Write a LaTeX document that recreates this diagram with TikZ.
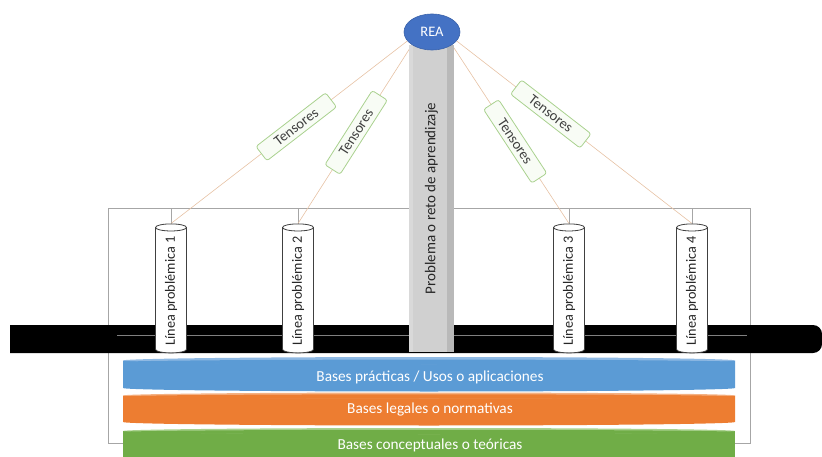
\documentclass[tikz,border=0pt]{standalone}
\usepackage{fontspec}
\setmainfont{Carlito}
\usetikzlibrary{shapes.geometric}
\definecolor{reablue}{HTML}{4472C4}
\definecolor{reaborder}{HTML}{3A62AA}
\definecolor{tanline}{HTML}{E6C2A4}
\definecolor{tgreen}{HTML}{A9D18E}
\definecolor{tfill}{HTML}{F8FCF5}
\definecolor{framegray}{HTML}{A6A6A6}
\definecolor{layblue}{HTML}{5B9BD5}
\definecolor{layblueTop}{HTML}{8FB9E3}
\definecolor{layorange}{HTML}{ED7D31}
\definecolor{layorangeTop}{HTML}{F4B183}
\definecolor{laygreen}{HTML}{70AD47}
\definecolor{laygreenTop}{HTML}{A9D18E}
\definecolor{txtdark}{HTML}{262626}
\definecolor{colLight}{HTML}{D9D9D9}
\definecolor{colMid}{HTML}{D0D0D0}
\definecolor{colDark}{HTML}{B9B9B9}
\pgfdeclarelayer{bg}
\pgfsetlayers{bg,main}
\begin{document}
\begin{tikzpicture}[x=1pt,y=-1pt,
  rea/.style={ellipse, fill=reablue, draw=reaborder, line width=0.6pt,
    minimum width=56pt, minimum height=36pt, inner sep=0pt, text=white,
    font=\fontsize{14.5}{16}\selectfont},
  colbox/.style={rectangle, minimum width=45pt, minimum height=307pt,
    inner sep=0pt, fill=colMid,
    path picture={
      \fill[colLight] (path picture bounding box.north west) rectangle ([xshift=4pt]path picture bounding box.south west);
      \fill[colDark] ([xshift=-7pt]path picture bounding box.north east) rectangle (path picture bounding box.south east);
    },
    text=txtdark, font=\fontsize{15}{17}\selectfont},
  cyl/.style={cylinder, rotate=90, aspect=0.5, draw=black!75, line width=0.8pt,
    fill=white, minimum width=31pt, minimum height=129pt, inner sep=1pt,
    text=txtdark, font=\fontsize{14.2}{16}\selectfont},
  tens/.style={sloped, rectangle, draw=tgreen, line width=0.8pt, fill=tfill,
    rounded corners=2.5pt, minimum width=88pt, minimum height=18pt, inner sep=1pt,
    text=black!75, font=\fontsize{14.5}{16}\selectfont},
  tanln/.style={draw=tanline, line width=0.6pt},
  frameln/.style={draw=framegray, line width=0.8pt},
  laytext/.style={text=white, inner sep=0pt, font=\fontsize{15.3}{17}\selectfont}
]
\useasboundingbox (0,0) rectangle (822,457);

% main nodes
\node[colbox] (col) at (431.5,198.5) {\rotatebox{90}{Problema o reto de aprendizaje}};
\node[rea] (rea) at (432,32) {REA};
\node[cyl] (c1) at (171,291) {Línea problémica 1};
\node[cyl] (c2) at (298,291) {Línea problémica 2};
\node[cyl] (c3) at (569,291) {Línea problémica 3};
\node[cyl] (c4) at (692,291) {Línea problémica 4};
\node[laytext] (lb) at (430,377) {Bases prácticas / Usos o aplicaciones};
\node[laytext] (lo) at (430,410) {Bases legales o normativas};
\node[laytext] (lg) at (430,445) {Bases conceptuales o teóricas};

\coordinate (ftop) at (0,208);

\begin{pgfonlayer}{bg}
  % frame
  \draw[frameln] (108,208) rectangle (750,443);
  \foreach \c in {c1,c2,c3,c4}
    \draw[frameln] (\c.east) -- (\c.east |- ftop);
  % black bar
  \fill[black] (10,325) [rounded corners=9pt] -- (822,325) -- (822,353) [sharp corners] -- (10,353) -- cycle;
  \draw[gray, line width=0.7pt] (117,335.5) -- (747,335.5);
  % layers
  \fill[laygreen] (123,431) -- (123,460) -- (735,460) -- (735,431) -- cycle;
  \fill[laygreenTop] (429,431) ellipse [x radius=306pt, y radius=3pt];
  \fill[laygreen] (429,432) ellipse [x radius=306pt, y radius=2.2pt];
  \fill[layorange] (123,395.5) -- (123,422) arc[start angle=180, end angle=360, x radius=306pt, y radius=3.5pt] -- (735,395.5) -- cycle;
  \fill[layorangeTop] (429,395.5) ellipse [x radius=306pt, y radius=3pt];
  \fill[layorange] (429,396.5) ellipse [x radius=306pt, y radius=2.2pt];
  \fill[layblue] (123,360.5) -- (123,388) arc[start angle=180, end angle=360, x radius=306pt, y radius=3.5pt] -- (735,360.5) -- cycle;
  \fill[layblueTop] (429,360.5) ellipse [x radius=306pt, y radius=3.5pt];
  \fill[layblue] (429,362) ellipse [x radius=306pt, y radius=2.4pt];
  % tensors
  \draw[tanln] (rea.200) -- node[tens, pos=0.47] (t1) {Tensores} (c1.east);
  \draw[tanln] (rea.south west) -- node[tens, pos=0.49] (t2) {Tensores} (c2.east);
  \draw[tanln] (rea.south east) -- node[tens, pos=0.54] (t3) {Tensores} (c3.east);
  \draw[tanln] (rea.-20) -- node[tens, pos=0.40] (t4) {Tensores} (c4.east);
\end{pgfonlayer}
\end{tikzpicture}
\end{document}
